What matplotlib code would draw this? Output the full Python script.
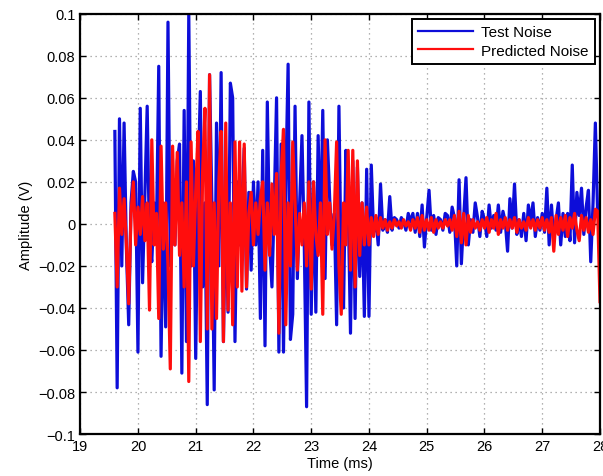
import numpy as np
import matplotlib
matplotlib.use("Agg")
import matplotlib.pyplot as plt

# sampled noise, 0.04 ms step, starting at 19.60 ms
t_start = 19.60
dt = 0.04

# burst part (19.60 .. 24.04 ms)
test_burst = [
    0.044, -0.078, 0.050, -0.020, 0.048, -0.012, -0.048, 0.010, 0.025, 0.020,
    -0.061, 0.055, -0.028, 0.015, 0.056, -0.010, -0.018, 0.010, -0.005, 0.075,
    -0.063, 0.010, -0.049, 0.096, -0.020, 0.015, -0.010, 0.030, 0.038, -0.071,
    0.054, -0.056, 0.100, -0.020, 0.030, -0.064, 0.020, 0.063, -0.030, 0.010,
    -0.086, 0.071, 0.010, -0.079, 0.048, -0.020, 0.072, -0.056, 0.010, -0.042,
    0.067, 0.060, -0.056, 0.020, -0.010, 0.010, 0.036, -0.031, 0.015, -0.022,
    0.020, -0.010, 0.020, -0.045, 0.035, -0.058, 0.058, -0.010, -0.030, 0.010,
    0.060, -0.061, 0.038, -0.061, 0.020, 0.076, -0.055, -0.043, 0.056, -0.026,
    0.010, 0.042, -0.010, -0.087, 0.058, -0.043, 0.020, -0.042, 0.042, -0.010,
    0.054, -0.026, 0.040, 0.012, -0.010, 0.005, -0.048, 0.056, -0.026, -0.040,
    0.035, 0.010, -0.052, 0.030, -0.045, 0.027, -0.025, 0.010, -0.044, 0.026,
    -0.044, 0.028,
]
# quiet part (24.08 .. 28.00 ms)
test_tail = [
    -0.004, 0.003, -0.010, 0.019, -0.003, 0.002, -0.004, 0.013, -0.003, 0.003,
    0.002, -0.002, 0.003, 0.001, -0.003, 0.005, 0.001, 0.005, -0.004, 0.005,
    -0.006, 0.009, -0.011, 0.003, 0.016, -0.003, 0.004, -0.005, 0.003, 0.002,
    -0.003, 0.005, 0.004, -0.004, 0.008, 0.003, -0.020, 0.021, -0.019, 0.003,
    0.022, -0.010, 0.002, -0.004, 0.010, 0.003, -0.006, 0.006, 0.002, -0.006,
    0.009, -0.002, 0.004, -0.003, 0.009, -0.004, 0.006, 0.001, -0.013, 0.012,
    -0.002, 0.019, -0.005, 0.002, -0.006, 0.005, -0.008, 0.009, 0.001, 0.010,
    -0.006, 0.003, -0.003, 0.005, -0.004, 0.017, -0.010, 0.009, -0.008, 0.002,
    0.010, -0.010, 0.005, -0.006, 0.005, -0.008, 0.028, -0.009, 0.015, 0.004,
    0.017, -0.005, 0.008, 0.016, -0.018, 0.010, 0.048, 0.004, 0.002,
]

pred_burst = [
    0.005, -0.030, 0.017, -0.005, 0.012, -0.010, -0.038, 0.005, 0.020, -0.010,
    0.008, -0.005, 0.013, -0.008, 0.010, -0.041, 0.040, -0.010, 0.005, -0.045,
    0.037, -0.012, 0.010, -0.020, -0.069, 0.037, -0.010, 0.034, -0.015, 0.010,
    -0.030, 0.020, -0.075, 0.039, -0.020, 0.015, 0.044, -0.056, 0.025, 0.055,
    -0.050, 0.071, -0.050, 0.010, -0.045, 0.020, 0.044, -0.056, 0.048, -0.041,
    0.010, -0.048, 0.039, -0.030, 0.039, -0.032, 0.038, -0.030, 0.005, 0.015,
    -0.010, 0.010, -0.005, 0.012, 0.020, -0.022, 0.010, -0.015, 0.019, -0.005,
    0.024, -0.052, 0.024, 0.045, -0.048, 0.010, -0.020, 0.039, 0.010, -0.022,
    0.005, -0.010, 0.010, -0.020, 0.020, -0.031, 0.020, -0.005, -0.015, 0.010,
    -0.043, 0.040, -0.005, 0.010, -0.012, 0.005, 0.039, -0.020, -0.043, 0.010,
    -0.010, 0.035, -0.022, 0.035, -0.030, 0.030, -0.015, 0.010, -0.010, 0.008,
    -0.010, 0.003,
]
pred_tail = [
    -0.006, 0.004, -0.005, 0.003, -0.002, 0.002, -0.003, 0.001, -0.002, 0.002,
    -0.001, 0.001, -0.002, 0.002, -0.001, 0.001, -0.003, 0.002, -0.002, 0.003,
    -0.004, 0.004, -0.003, 0.002, -0.003, 0.003, -0.004, 0.002, -0.002, 0.001,
    -0.002, 0.002, -0.001, 0.002, -0.003, 0.004, -0.006, 0.006, -0.009, 0.005,
    -0.010, 0.004, -0.004, 0.002, -0.002, 0.001, -0.003, 0.002, -0.002, 0.003,
    -0.004, 0.002, -0.002, 0.005, -0.005, 0.002, -0.002, 0.003, -0.003, 0.002,
    -0.002, 0.003, -0.004, 0.002, -0.002, 0.001, -0.003, 0.003, -0.002, 0.002,
    -0.003, 0.002, -0.002, 0.003, -0.003, 0.002, -0.004, 0.003, -0.013, 0.004,
    -0.005, 0.003, -0.003, 0.004, -0.006, 0.003, -0.002, 0.005, -0.003, -0.008,
    0.004, -0.003, 0.003, -0.004, 0.002, -0.005, 0.007, 0.006, -0.037,
]

x_ticks = [19, 20, 21, 22, 23, 24, 25, 26, 27, 28]
y_ticks = [-0.1, -0.08, -0.06, -0.04, -0.02, 0, 0.02, 0.04, 0.06, 0.08, 0.1]
y_tick_labels = ["\u22120.1", "\u22120.08", "\u22120.06", "\u22120.04", "\u22120.02", "0",
                 "0.02", "0.04", "0.06", "0.08", "0.1"]

plt.rcParams["font.family"] = ["Liberation Sans", "DejaVu Sans"]

test = np.array(test_burst + test_tail)
pred = np.array(pred_burst + pred_tail)
t_test = t_start + dt * np.arange(len(test))
t_pred = t_start + dt * np.arange(len(pred))

fig = plt.figure(figsize=(6.03, 4.77), dpi=100)
ax = fig.add_axes([0.133, 0.088, 0.862, 0.881])

ax.plot(t_test, test, color=(0.05, 0.05, 0.85), lw=2.3, label="Test Noise")
ax.plot(t_pred, pred, color=(1.0, 0.05, 0.05), lw=2.3, label="Predicted Noise")

ax.set_xlim(19, 28)
ax.set_ylim(-0.1, 0.1)
ax.set_xticks(x_ticks)
ax.set_yticks(y_ticks)
ax.set_yticklabels(y_tick_labels)
ax.tick_params(direction="in", top=True, right=True, labelsize=10.5, length=4, width=1.0)
ax.grid(True, linestyle=(0, (1, 3)), color="0.6", lw=0.9)
for s in ax.spines.values():
    s.set_linewidth(1.6)

ax.set_xlabel("Time (ms)", fontsize=10.5, labelpad=2)
ax.set_ylabel("Amplitude (V)", fontsize=10.5, labelpad=4)

leg = ax.legend(loc="upper right", fontsize=11, fancybox=False, framealpha=1,
                edgecolor="black", borderaxespad=0.35, handlelength=3.6,
                borderpad=0.4, labelspacing=0.3, handletextpad=0.5)
leg.get_frame().set_linewidth(1.4)
for line in leg.get_lines():
    line.set_linewidth(1.6)

plt.savefig("out.png", dpi=100)
